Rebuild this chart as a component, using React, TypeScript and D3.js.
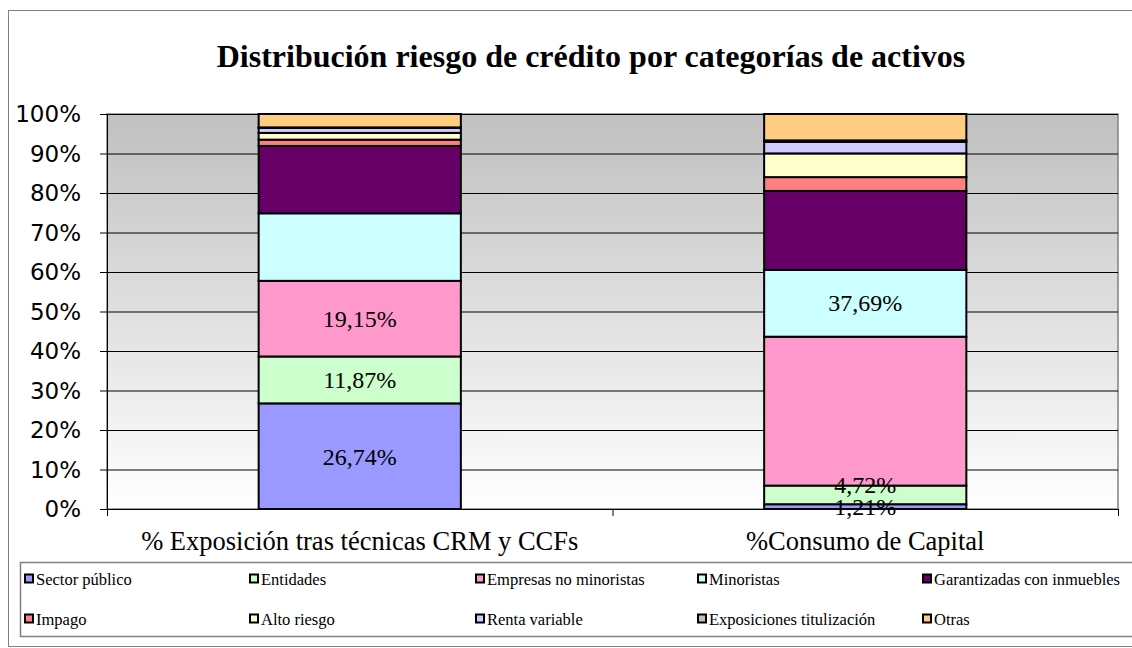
import React from "react";
import * as d3 from "d3";

const categories = ["% Exposición tras técnicas CRM y CCFs", "%Consumo de Capital"];
const seriesNames = [
  "Sector público",
  "Entidades",
  "Empresas no minoristas",
  "Minoristas",
  "Garantizadas con inmuebles",
  "Impago",
  "Alto riesgo",
  "Renta variable",
  "Exposiciones titulización",
  "Otras",
];
const seriesColors = [
  "#9999FF",
  "#CCFFCC",
  "#FF99CC",
  "#CCFFFF",
  "#660066",
  "#FF8080",
  "#FFFFCC",
  "#CCCCFF",
  "#C0C0C0",
  "#FFCC80",
];
// values per category (percent)
const exposicionValues = [26.74, 11.87, 19.15, 17.1, 17.05, 1.6, 1.7, 1.3, 0.1, 3.39];
const consumoValues = [1.21, 4.72, 37.69, 16.9, 20.0, 3.5, 6.0, 2.9, 0.4, 6.68];
const yTickValues = [0, 0.1, 0.2, 0.3, 0.4, 0.5, 0.6, 0.7, 0.8, 0.9, 1];
// data labels shown: [categoryIndex, seriesIndex]
const labelled = [
  [0, 0],
  [0, 1],
  [0, 2],
  [1, 0],
  [1, 1],
  [1, 2],
];
// manual label displacement (in share units) as in the original chart
const labelShift: Record<string, number> = { "1-1": 0.027, "1-2": 0.275 };

const W = 1132;
const H = 648;
const plot = { left: 107, right: 1118, top: 114, bottom: 509 };

export default function App() {
  const rows = categories.map((c, i) => {
    const vals = i === 0 ? exposicionValues : consumoValues;
    const r: any = { cat: c };
    seriesNames.forEach((s, j) => (r[s] = vals[j]));
    return r;
  });
  const stack = d3.stack<any>().keys(seriesNames).offset(d3.stackOffsetExpand);
  const layers = stack(rows);

  const x = d3
    .scaleBand<string>()
    .domain(categories)
    .range([plot.left, plot.right])
    .paddingInner(0.6)
    .paddingOuter(0.3);
  const y = d3.scaleLinear().domain([0, 1]).range([plot.bottom, plot.top]);
  const fmt = (v: number) => v.toFixed(2).replace(".", ",") + "%";
  const step = x.step();

  const legendCols = [24, 249, 475, 697, 922];
  const legendRows = [579, 619];

  return (
    <svg
      width={W}
      height={H}
      style={{ position: "absolute", left: 0, top: 0, display: "block" }}
    >
      <defs>
        <linearGradient id="bg" x1="0" y1="0" x2="0" y2="1">
          <stop offset="0" stopColor="#C0C0C0" />
          <stop offset="1" stopColor="#FFFFFF" />
        </linearGradient>
      </defs>
      <rect x={0} y={0} width={W} height={H} fill="#fff" />
      <rect x={8.5} y={10.5} width={1140} height={636} fill="#fff" stroke="#808080" strokeWidth={1} />
      <text
        x={591}
        y={67}
        textAnchor="middle"
        fontFamily="'Liberation Serif', 'Times New Roman', serif"
        fontWeight="bold"
        fontSize={32}
        fill="#000"
      >
        Distribución riesgo de crédito por categorías de activos
      </text>

      {/* plot area */}
      <rect
        x={plot.left}
        y={plot.top}
        width={plot.right - plot.left}
        height={plot.bottom - plot.top}
        fill="url(#bg)"
        stroke="#808080"
        strokeWidth={1.5}
      />
      {yTickValues.map((t) => (
        <g key={t}>
          {t > 0 && (
            <line x1={plot.left} x2={plot.right} y1={y(t) + 0.5} y2={y(t) + 0.5} stroke="#000" strokeWidth={1} />
          )}
          <line x1={plot.left - 7} x2={plot.left} y1={y(t) + 0.5} y2={y(t) + 0.5} stroke="#000" strokeWidth={1} />
          <text
            x={81}
            y={y(t)}
            dy="0.36em"
            textAnchor="end"
            fontFamily="'DejaVu Sans', Verdana, sans-serif"
            fontSize={23}
            fill="#000"
          >
            {Math.round(t * 100) + "%"}
          </text>
        </g>
      ))}
      <line x1={plot.left + 0.5} x2={plot.left + 0.5} y1={plot.top} y2={plot.bottom} stroke="#000" strokeWidth={1} />
      <line x1={plot.left - 7} x2={plot.right} y1={plot.bottom + 0.5} y2={plot.bottom + 0.5} stroke="#000" strokeWidth={1} />
      {[0, 1, 2].map((k) => (
        <line
          key={k}
          x1={plot.left + k * step + 0.5}
          x2={plot.left + k * step + 0.5}
          y1={plot.bottom}
          y2={plot.bottom + 7}
          stroke="#000"
          strokeWidth={1}
        />
      ))}

      {/* bars */}
      {layers.map((layer, j) =>
        layer.map((d, i) => (
          <rect
            key={j + "-" + i}
            x={x(categories[i])!}
            width={x.bandwidth()}
            y={y(d[1])}
            height={Math.max(0, y(d[0]) - y(d[1]))}
            fill={seriesColors[j]}
            stroke="#000"
            strokeWidth={2}
          />
        ))
      )}

      {/* data labels */}
      {labelled.map(([i, j]) => {
        const d = layers[j][i];
        const vals = i === 0 ? exposicionValues : consumoValues;
        const mid = (d[0] + d[1]) / 2 + (labelShift[i + "-" + j] || 0);
        return (
          <text
            key={"l" + i + j}
            x={x(categories[i])! + x.bandwidth() / 2}
            y={y(mid)}
            dy="0.35em"
            textAnchor="middle"
            fontFamily="'Liberation Serif', 'Times New Roman', serif"
            fontSize={24}
            fill="#000"
          >
            {fmt(vals[j])}
          </text>
        );
      })}

      {/* category labels */}
      {categories.map((c) => (
        <text
          key={c}
          x={x(c)! + x.bandwidth() / 2}
          y={550}
          textAnchor="middle"
          fontFamily="'Liberation Serif', 'Times New Roman', serif"
          fontSize={26.5}
          fill="#000"
        >
          {c}
        </text>
      ))}

      {/* legend */}
      <rect x={20.5} y={562.5} width={1130} height={74} fill="#fff" stroke="#808080" strokeWidth={1.5} />
      {seriesNames.map((s, j) => {
        const cx = legendCols[j % 5];
        const cy = legendRows[Math.floor(j / 5)];
        return (
          <g key={s}>
            <rect x={cx + 1} y={cy - 4.5} width={8} height={8} fill={seriesColors[j]} stroke="#000" strokeWidth={2} />
            <text
              x={cx + 12}
              y={cy + 5.5}
              fontFamily="'Liberation Serif', 'Times New Roman', serif"
              fontSize={16.5}
              fill="#000"
            >
              {s}
            </text>
          </g>
        );
      })}
    </svg>
  );
}
